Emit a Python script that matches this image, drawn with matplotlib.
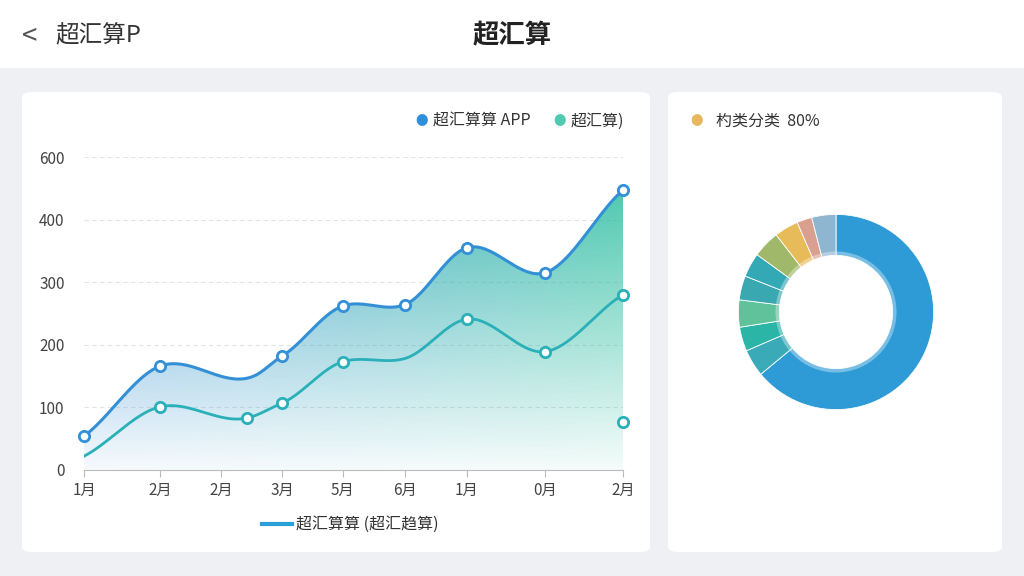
import numpy as np
import matplotlib.pyplot as plt
from matplotlib.patches import FancyBboxPatch, Polygon
from matplotlib.colors import LinearSegmentedColormap

plt.rcParams['font.family'] = ['Noto Sans CJK SC', 'DejaVu Sans']

# 数据
x_labels = ["1月", "2月", "2月", "3月", "5月", "6月", "1月", "0月", "2月"]
x_pos = [0, 1.13, 2.03, 2.94, 3.84, 4.76, 5.68, 6.84, 8.0]
app_x = [0, 1.13, 2.52, 2.94, 3.84, 4.76, 5.68, 6.84, 8.0]
app_y = [54, 166, 150, 182, 262, 264, 355, 315, 447]
app_marker = [True, True, False, True, True, True, True, True, True]
sub_x = [0, 1.13, 2.42, 2.94, 3.84, 4.76, 5.68, 6.84, 8.0]
sub_y = [22, 101, 83, 107, 173, 178, 241, 189, 280]
sub_marker = [False, True, True, True, True, False, True, True, True]
extra_point = (8.0, 77)
y_ticks = [0, 100, 200, 300, 400, 500]
y_tick_labels = ["0", "100", "200", "300", "400", "600"]
donut_vals = [64, 4.5, 4, 4.5, 4, 4, 4.5, 4, 2.5, 4]
donut_cols = ["#2f9bd6", "#3aaab8", "#2bb5a6", "#5fc29a", "#3aa8b0", "#33a9b5",
              "#9fb86a", "#e8bb5a", "#d9a090", "#8fb6d0"]


def smooth(xs, ys, n=40):
    xs = np.asarray(xs, float); ys = np.asarray(ys, float)
    m = np.gradient(ys, xs) * 0.8
    ox, oy = [], []
    for i in range(len(xs) - 1):
        h = xs[i + 1] - xs[i]
        t = np.linspace(0, 1, n)
        h00 = 2*t**3 - 3*t**2 + 1; h10 = t**3 - 2*t**2 + t
        h01 = -2*t**3 + 3*t**2; h11 = t**3 - t**2
        ox.extend(xs[i] + t*h)
        oy.extend(h00*ys[i] + h10*h*m[i] + h01*ys[i+1] + h11*h*m[i+1])
    return np.array(ox), np.array(oy)


fig = plt.figure(figsize=(10.24, 5.76), dpi=100)
fig.patch.set_facecolor("#eef0f3")

# 头部
fig.patches.append(plt.Rectangle((0, 1 - 68/576), 1, 68/576, transform=fig.transFigure,
                                 facecolor="white", edgecolor="none", zorder=-2))
fig.text(0.5, 1 - 36/576, "超汇算", ha="center", va="center", fontsize=19, fontweight="bold", color="#222")
fig.text(55/1024, 1 - 36/576, "超汇算P", ha="left", va="center", fontsize=17, color="#333")
fig.text(22/1024, 1 - 36/576, "<", ha="left", va="center", fontsize=20, color="#555")

for (x0, x1) in [(22, 650), (668, 1002)]:
    fig.patches.append(FancyBboxPatch((x0/1024, 1 - 552/576), (x1-x0)/1024, 460/576,
                                      boxstyle="round,pad=0,rounding_size=0.01",
                                      transform=fig.transFigure, facecolor="white",
                                      edgecolor="none", zorder=-2))

# 折线图
ax = fig.add_axes([84/1024, 1 - 470/576, 539/1024, 313/576])
ax.set_xlim(0, 8.0)
ax.set_ylim(0, 500)
sx, sy = smooth(app_x, app_y)
tx, ty = smooth(sub_x, sub_y)

cmap = LinearSegmentedColormap.from_list("g", ["#3a8fd8", "#2bbfa0"])
grad = np.linspace(0, 1, 256)[None, :].repeat(100, 0)
rgba = cmap(grad)
rgba[..., 3] = np.linspace(0.85, 0.05, 100)[:, None]
im = ax.imshow(rgba, extent=[0, 8, 0, 460], aspect="auto", origin="upper", zorder=1)
poly = Polygon(np.column_stack([np.r_[sx, 8, 0], np.r_[sy, 0, 0]]), transform=ax.transData)
im.set_clip_path(poly)
ax.set_xlim(0, 8.0)
ax.set_ylim(0, 500)

ax.plot(sx, sy, color="#3390d6", lw=2.2, zorder=3)
ax.plot(tx, ty, color="#2ab0b8", lw=2.0, zorder=3)
for xs_, ys_, mk, c in [(app_x, app_y, app_marker, "#3390d6"), (sub_x, sub_y, sub_marker, "#2ab0b8")]:
    px = [a for a, k in zip(xs_, mk) if k]; py = [b for b, k in zip(ys_, mk) if k]
    ax.scatter(px, py, s=55, facecolor="white", edgecolor=c, linewidth=2, zorder=4, clip_on=False)
ax.scatter([extra_point[0]], [extra_point[1]], s=55, facecolor="white", edgecolor="#2ab0b8",
           linewidth=2, zorder=4, clip_on=False)

ax.set_facecolor("none")
for s in ["top", "right", "left"]:
    ax.spines[s].set_visible(False)
ax.spines["bottom"].set_color("#bbb")
ax.set_xticks(x_pos)
ax.set_xticklabels(x_labels, fontsize=11, color="#444")
ax.set_yticks(y_ticks)
ax.set_yticklabels(y_tick_labels, fontsize=11, color="#444")
ax.tick_params(axis="y", length=0, pad=14)
ax.tick_params(axis="x", color="#bbb", length=5)
for v in y_ticks[1:]:
    ax.axhline(v, color="#e3e3e3", lw=0.8, ls=(0, (4, 3)), zorder=0)

# 图例
fig.text(415/1024, 1 - 121/576, "●", color="#2f8fdc", fontsize=9, va="center")
fig.text(433/1024, 1 - 121/576, "超汇算算 APP", color="#333", fontsize=11.5, va="center")
fig.text(553/1024, 1 - 121/576, "●", color="#4fc9b0", fontsize=9, va="center")
fig.text(571/1024, 1 - 121/576, "超汇算)", color="#333", fontsize=11.5, va="center")
fig.lines.append(plt.Line2D([262/1024, 292/1024], [1 - 524/576]*2, transform=fig.transFigure,
                            color="#2aa0d8", lw=3))
fig.text(296/1024, 1 - 524/576, "超汇算算 (超汇趋算)", color="#333", fontsize=11.5, va="center")

# 环形图
fig.text(690/1024, 1 - 121/576, "●", color="#e8b860", fontsize=9, va="center")
fig.text(716/1024, 1 - 121/576, "杓类分类  80%", color="#333", fontsize=11.5, va="center")
ax2 = fig.add_axes([(836-122)/1024, 1 - (312+122)/576, 244/1024, 244/576])
ax2.pie(donut_vals, colors=donut_cols, startangle=90, counterclock=False, radius=1.0,
        wedgeprops=dict(width=0.42, edgecolor="white", linewidth=0.6))
ax2.pie([1], colors=["white"], radius=0.62, wedgeprops=dict(width=0.06, alpha=0.35))
ax2.set_aspect("equal")
ax2.axis("off")

fig.savefig("out.png", dpi=100, facecolor=fig.get_facecolor())
